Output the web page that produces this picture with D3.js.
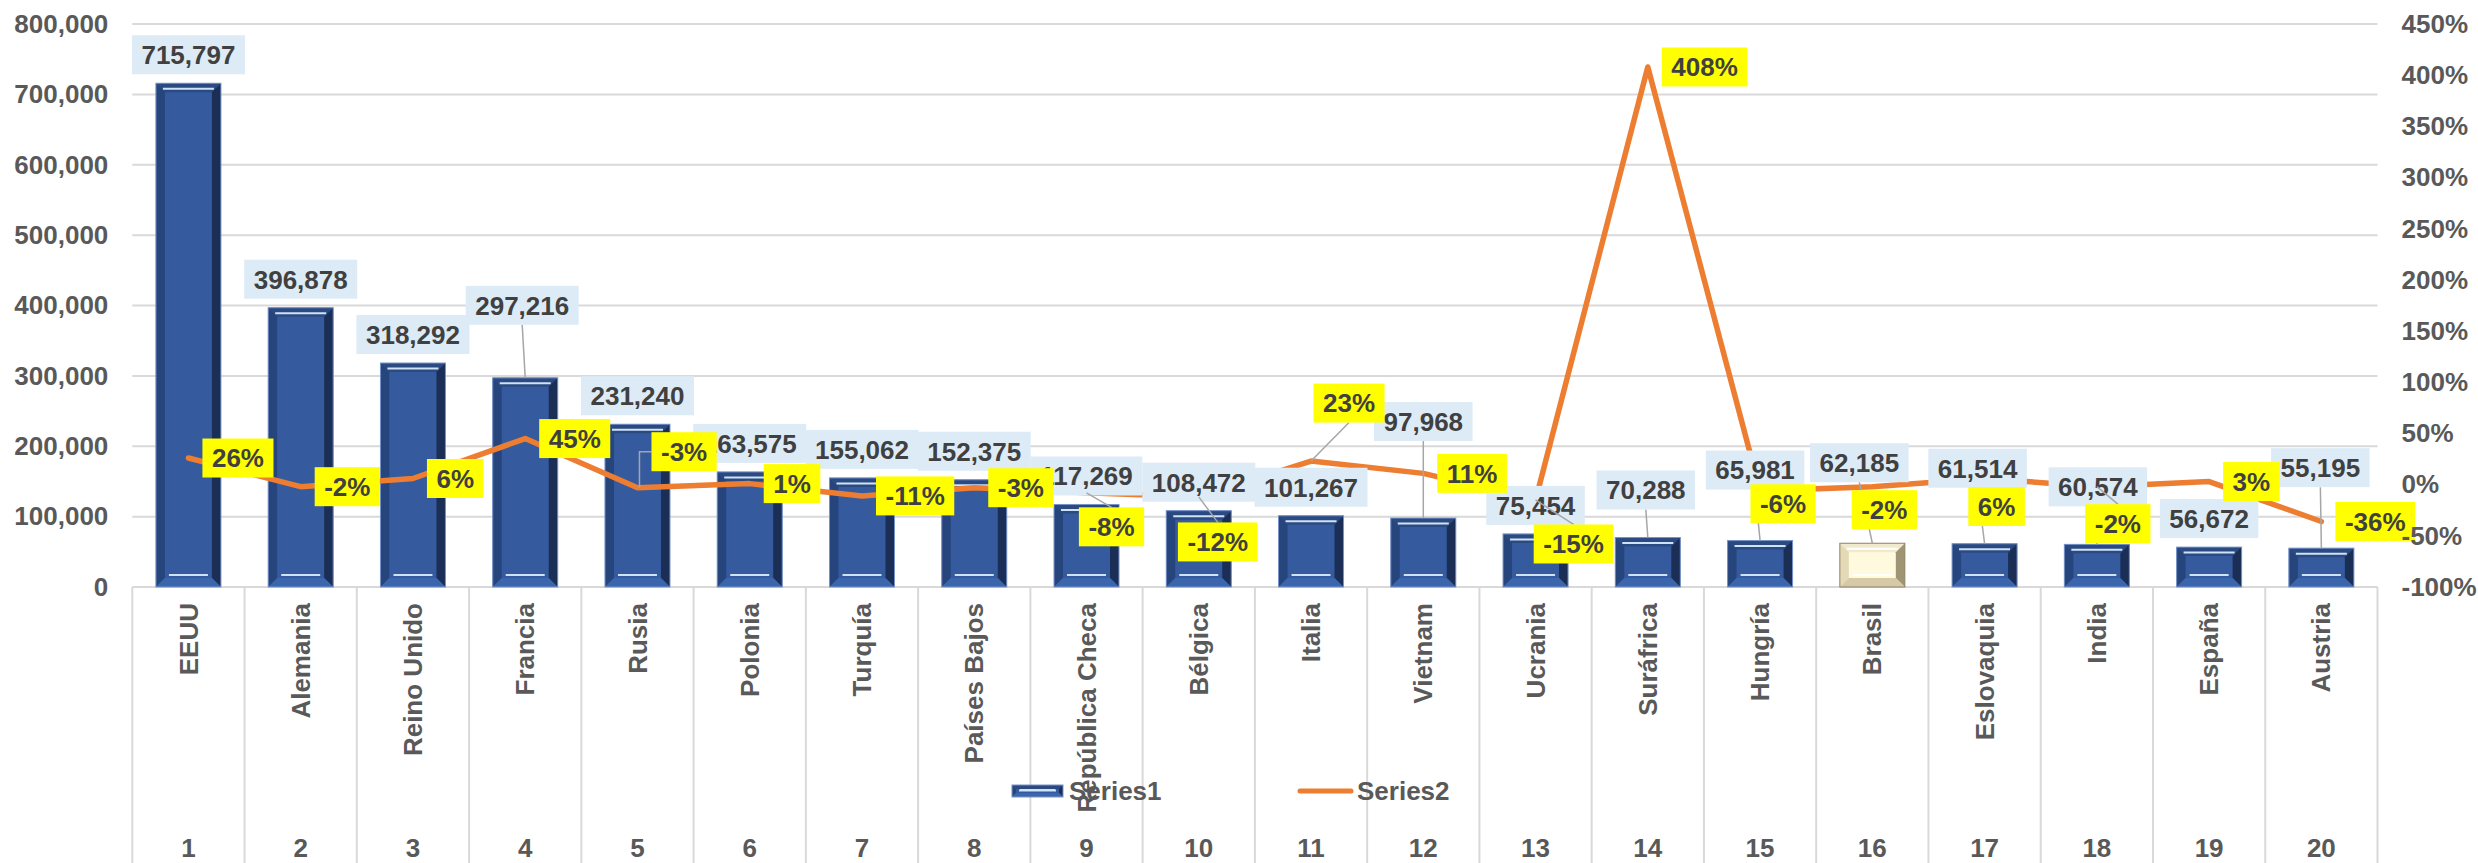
<!DOCTYPE html>
<html>
<head>
<meta charset="utf-8">
<script src="https://cdn.jsdelivr.net/npm/d3@7"></script>
<style>
body { margin: 0; background: #fff; }
text { font-family: "Liberation Sans", Arial, sans-serif; font-weight: bold; }
</style>
</head>
<body>
<svg id="chart" width="2478" height="863"></svg>
<script>
// datos
var paises = ["EEUU", "Alemania", "Reino Unido", "Francia", "Rusia", "Polonia", "Turquía",
    "Países Bajos", "República Checa", "Bélgica", "Italia", "Vietnam", "Ucrania", "Suráfrica",
    "Hungría", "Brasil", "Eslovaquia", "India", "España", "Austria"];
var puestos = ["1", "2", "3", "4", "5", "6", "7", "8", "9", "10",
    "11", "12", "13", "14", "15", "16", "17", "18", "19", "20"];
var series1 = [715797, 396878, 318292, 297216, 231240, 163575, 155062, 152375, 117269, 108472,
    101267, 97968, 75454, 70288, 65981, 62185, 61514, 60574, 56672, 55195];
var series2 = [0.26, -0.02, 0.06, 0.45, -0.03, 0.01, -0.11, -0.03, -0.08, -0.12,
    0.23, 0.11, -0.15, 4.08, -0.06, -0.02, 0.06, -0.02, 0.03, -0.36];
var ticksIzq = [0, 100000, 200000, 300000, 400000, 500000, 600000, 700000, 800000];
var ticksDer = [-1, -0.5, 0, 0.5, 1, 1.5, 2, 2.5, 3, 3.5, 4, 4.5];
var destacado = "Brasil";

// posicion de las etiquetas (movidas a mano como en el original)
var barLabelShift = [[0,0],[0,0],[0,0],[-3,-44],[0,0],[0,0],[0,0],[0,0],[0,0],[0,0],
    [0,0],[0,-68],[0,0],[-2,-19],[-5,-42],[-13,-52],[-7,-47],[1,-29],[0,0],[-1,-52]];
var pctLabelPos = [["r",0,0],["r",0,0],["r",0,0],["r",0,0],["r",0,-36],["r",0,0],["r",0,0],["r",0,0],
    ["c",25,34],["c",19,45],["c",38,-58],["r",0,0],["c",38,44],["r",0,0],["c",23,13],
    ["c",12,23],["c",12,28],["c",21,37],["r",0,0],["r",0,0]];

var loc = d3.formatLocale({decimal: ".", thousands: ",", grouping: [3], currency: ["$", ""], minus: "-"});
var fmtMiles = loc.format(","),
    fmtPct = loc.format(".0%");

var svg = d3.select("#chart");
var plotL = 132.3, plotR = 2377.5, plotT = 24, base = 587;

var x = d3.scaleBand().domain(paises).range([plotL, plotR]).padding(0),
    yL = d3.scaleLinear().domain([0, 800000]).range([base, plotT]),
    yR = d3.scaleLinear().domain([-1, 4.5]).range([base, plotT]);
var bw = x.bandwidth(), barW = 65;

// gridlines
svg.append("g").selectAll("line").data(ticksIzq).enter().append("line")
    .attr("x1", plotL).attr("x2", plotR)
    .attr("y1", function(d) { return yL(d); }).attr("y2", function(d) { return yL(d); })
    .attr("stroke", "#d9d9d9").attr("stroke-width", 2);

// separadores de categorias
var bordes = paises.map(function(d) { return x(d); }).concat([plotR]);
svg.append("g").selectAll("line").data(bordes).enter().append("line")
    .attr("x1", function(d) { return d; }).attr("x2", function(d) { return d; })
    .attr("y1", base).attr("y2", 863)
    .attr("stroke", "#d9d9d9").attr("stroke-width", 2);

var azul = {top: "#2b4a82", left: "#26457c", right: "#1a2e56", bottom: "#3b66ae", face: "#355b9e", hi: "#cfe2f6", edge: "#7894c8"};
var crema = {top: "#f1e9cc", left: "#e3d9b6", right: "#9f9473", bottom: "#d5caa5", face: "#fff9dd", hi: "#ffffff", edge: "#8c8268"};

function bevel(g, bx, by, w, h, p) {
    var b = Math.min(9, h / 3);
    g.append("rect").attr("x", bx).attr("y", by).attr("width", w).attr("height", h).attr("fill", p.face);
    g.append("polygon").attr("points", [[bx,by],[bx+w,by],[bx+w-b,by+b],[bx+b,by+b]].join(" ")).attr("fill", p.top);
    g.append("polygon").attr("points", [[bx,by],[bx+b,by+b],[bx+b,by+h-b],[bx,by+h]].join(" ")).attr("fill", p.left);
    g.append("polygon").attr("points", [[bx+w,by],[bx+w,by+h],[bx+w-b,by+h-b],[bx+w-b,by+b]].join(" ")).attr("fill", p.right);
    g.append("polygon").attr("points", [[bx,by+h],[bx+b,by+h-b],[bx+w-b,by+h-b],[bx+w,by+h]].join(" ")).attr("fill", p.bottom);
    g.append("line").attr("x1", bx + 7).attr("x2", bx + w - 7).attr("y1", by + 5.5).attr("y2", by + 5.5)
        .attr("stroke", p.hi).attr("stroke-width", 2);
    g.append("line").attr("x1", bx + b + 4).attr("x2", bx + w - b - 4).attr("y1", by + h - b - 3).attr("y2", by + h - b - 3)
        .attr("stroke", p.hi).attr("stroke-width", 2);
    g.append("rect").attr("x", bx).attr("y", by).attr("width", w).attr("height", h)
        .attr("fill", "none").attr("stroke", p.edge).attr("stroke-width", 1);
}

// barras
var barras = svg.append("g");
series1.forEach(function(v, i) {
    var g = barras.append("g");
    bevel(g, x(paises[i]) + (bw - barW) / 2, yL(v), barW, base - yL(v), paises[i] == destacado ? crema : azul);
});

// linea
var cx = function(i) { return x(paises[i]) + bw / 2; };
var linea = d3.line()
    .x(function(d, i) { return cx(i); })
    .y(function(d) { return yR(d); });
svg.append("path").datum(series2)
    .attr("d", linea)
    .attr("fill", "none").attr("stroke", "#ed7d31").attr("stroke-width", 5.5)
    .attr("stroke-linejoin", "round").attr("stroke-linecap", "round");

// etiquetas
var boxH = 39, pad = 9.5;
function etiqueta(g, txt, fill) {
    var r = g.append("rect").attr("fill", fill);
    var t = g.append("text").text(txt)
        .attr("font-size", 26).attr("fill", "#404040")
        .attr("text-anchor", "middle").attr("dy", "0.36em");
    var w = t.node().getComputedTextLength() + 2 * pad;
    r.attr("x", -w / 2).attr("y", -boxH / 2).attr("width", w).attr("height", boxH);
    return w;
}

var lideres1 = svg.append("g"), cajas1 = svg.append("g"),
    lideres2 = svg.append("g"), cajas2 = svg.append("g");

series1.forEach(function(v, i) {
    var s = barLabelShift[i];
    var lx = cx(i) + s[0], ly = yL(v) - 9 - boxH / 2 + s[1];
    var g = cajas1.append("g").attr("transform", "translate(" + lx + "," + ly + ")");
    etiqueta(g, fmtMiles(v), "#ddebf7");
    if (s[1] < -15) {
        lideres1.append("line")
            .attr("x1", lx).attr("y1", ly + boxH / 2)
            .attr("x2", cx(i)).attr("y2", yL(v))
            .attr("stroke", "#a6a6a6").attr("stroke-width", 1.5);
    }
});

series2.forEach(function(v, i) {
    var p = pctLabelPos[i];
    var px = cx(i), py = yR(v);
    var g = cajas2.append("g");
    var w = etiqueta(g, fmtPct(v), "#ffff00");
    var lx, ly;
    if (p[0] == "r") {
        lx = px + 14 + w / 2 + p[1];
        ly = py + p[2];
        if (Math.abs(p[2]) > 15) {
            lideres2.append("polyline")
                .attr("points", [[lx - w / 2, ly], [px + 2, ly], [px + 2, py]].join(" "))
                .attr("fill", "none").attr("stroke", "#a6a6a6").attr("stroke-width", 1.5);
        }
    } else {
        lx = px + p[1];
        ly = py + p[2];
        if (Math.abs(p[2]) > 30) {
            var ey = p[2] > 0 ? ly - boxH / 2 : ly + boxH / 2;
            lideres2.append("line")
                .attr("x1", px).attr("y1", py).attr("x2", lx).attr("y2", ey)
                .attr("stroke", "#a6a6a6").attr("stroke-width", 1.5);
        }
    }
    g.attr("transform", "translate(" + lx + "," + ly + ")");
});

// ejes
var ejeIzq = svg.append("g")
    .attr("transform", "translate(" + plotL + ",0)")
    .call(d3.axisLeft(yL).tickValues(ticksIzq).tickSize(0).tickPadding(24).tickFormat(fmtMiles));
var ejeDer = svg.append("g")
    .attr("transform", "translate(" + plotR + ",0)")
    .call(d3.axisRight(yR).tickValues(ticksDer).tickSize(0).tickPadding(24).tickFormat(fmtPct));
[ejeIzq, ejeDer].forEach(function(e) {
    e.select(".domain").remove();
    e.selectAll("text").attr("font-size", 26).attr("fill", "#595959")
        .attr("font-family", "Liberation Sans, Arial, sans-serif").attr("font-weight", "bold");
});

// eje de categorias
svg.append("g").selectAll("text").data(paises).enter().append("text")
    .attr("transform", function(d) { return "translate(" + (x(d) + bw / 2) + ",603) rotate(-90)"; })
    .attr("text-anchor", "end").attr("dy", "0.35em")
    .attr("font-size", 26).attr("fill", "#595959")
    .text(function(d) { return d; });
svg.append("g").selectAll("text").data(puestos).enter().append("text")
    .attr("x", function(d, i) { return cx(i); }).attr("y", 848).attr("dy", "0.35em")
    .attr("text-anchor", "middle").attr("font-size", 26).attr("fill", "#595959")
    .text(function(d) { return d; });

// leyenda
var ley = svg.append("g");
bevel(ley, 1012, 785, 51, 12, azul);
ley.append("text").attr("x", 1069).attr("y", 791).attr("dy", "0.35em")
    .attr("font-size", 26).attr("fill", "#595959").text("Series1");
ley.append("line").attr("x1", 1300).attr("x2", 1351).attr("y1", 791).attr("y2", 791)
    .attr("stroke", "#ed7d31").attr("stroke-width", 5).attr("stroke-linecap", "round");
ley.append("text").attr("x", 1357).attr("y", 791).attr("dy", "0.35em")
    .attr("font-size", 26).attr("fill", "#595959").text("Series2");
</script>
</body>
</html>
